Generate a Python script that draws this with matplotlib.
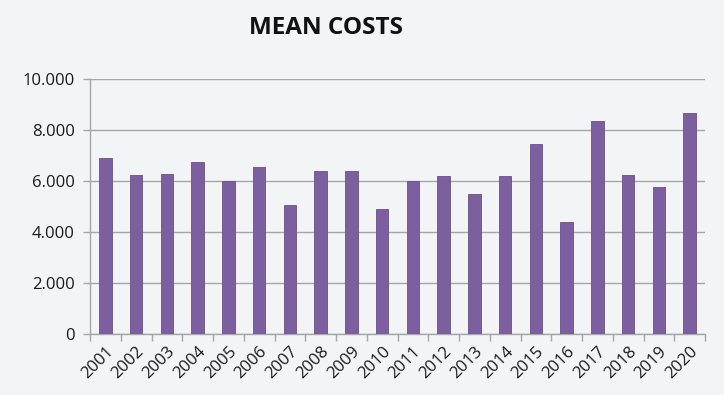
import matplotlib
matplotlib.use("Agg")
import matplotlib.pyplot as plt
from matplotlib.ticker import FuncFormatter, MultipleLocator

years = [str(y) for y in range(2001, 2021)]
mean_costs = [6890, 6240, 6270, 6730, 5990, 6540, 5070, 6390, 6390, 4910,
              5990, 6200, 5500, 6200, 7440, 4400, 8370, 6240, 5760, 8680]
title = "MEAN COSTS"

bg = "#f3f4f6"
bar_color = "#7b5f9e"
edge_color = "#6a4f8c"
grid_color = "#a6a6a6"

plt.rcParams['font.family'] = ['Open Sans', 'DejaVu Sans']

fig = plt.figure(figsize=(7.24, 3.95), dpi=100, facecolor=bg)
ax = fig.add_axes([90/724, 1-334/395, (705-90)/724, (334-79)/395])
ax.set_facecolor(bg)

x = range(len(years))
ax.bar(x, mean_costs, width=0.4, color=bar_color, edgecolor=edge_color, linewidth=0.6, zorder=3)

ax.set_ylim(0, 10000)
ax.set_xlim(-0.5, len(years) - 0.5)
ax.yaxis.set_major_locator(MultipleLocator(2000))
ax.yaxis.set_major_formatter(FuncFormatter(lambda v, p: "0" if v == 0 else f"{int(v):,}".replace(",", ".")))
ax.grid(axis='y', color=grid_color, linewidth=1.0, zorder=0)

for s in ['top', 'right']:
    ax.spines[s].set_visible(False)
for s in ['left', 'bottom']:
    ax.spines[s].set_color(grid_color)
    ax.spines[s].set_linewidth(1.0)

ax.set_xticks(list(x))
ax.set_xticklabels(years, rotation=45, ha='right', rotation_mode='anchor', fontsize=12, color='#1a1a1a')
ax.tick_params(axis='x', which='major', length=0, pad=7)
ax.set_xticks([i - 0.5 for i in range(len(years) + 1)], minor=True)
ax.tick_params(axis='x', which='minor', length=5, color=grid_color, width=1)
ax.tick_params(axis='y', length=5, color=grid_color, width=1, labelsize=12, labelcolor='#1a1a1a', pad=6)

fig.text(326/724, 1-28/395, title, ha='center', va='center', fontsize=17.5, fontweight='bold', color='#111111')

fig.savefig("out.png", dpi=100, facecolor=bg)
